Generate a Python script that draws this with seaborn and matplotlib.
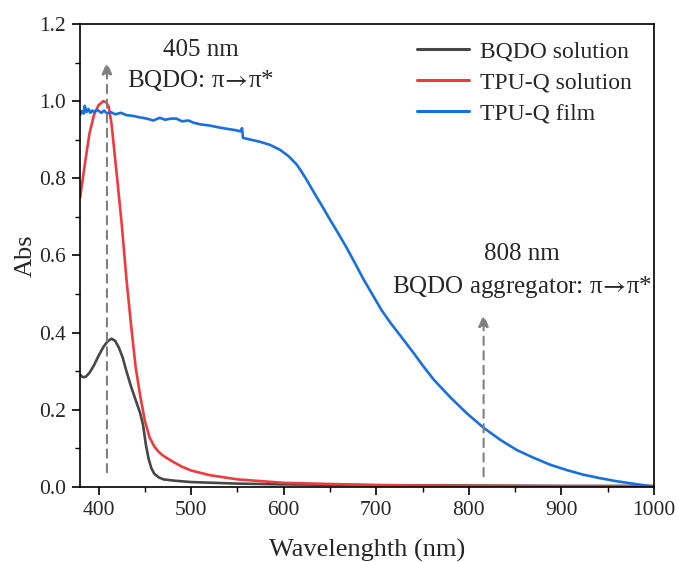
import numpy as np
import pandas as pd
import matplotlib
matplotlib.use("Agg")
import matplotlib.pyplot as plt
import seaborn as sns
from matplotlib.ticker import MultipleLocator

# ---------------- data ----------------
bqdo_x = [380, 383, 386, 390, 395, 400, 405, 410, 414, 418, 422, 426, 430, 435, 440, 445,
          448, 451, 454, 457, 460, 465, 470, 480, 500, 550, 600, 700, 800, 900, 1000]
bqdo_y = [0.290, 0.284, 0.285, 0.295, 0.315, 0.340, 0.362, 0.378, 0.384, 0.378, 0.360, 0.335,
          0.300, 0.260, 0.225, 0.190, 0.160, 0.110, 0.072, 0.048, 0.034, 0.024, 0.019, 0.016,
          0.012, 0.008, 0.006, 0.004, 0.003, 0.002, 0.002]

tpuq_sol_x = [380, 385, 390, 395, 400, 405, 408, 411, 414, 417, 420, 425, 430, 435, 440, 445,
              450, 455, 460, 465, 470, 480, 490, 500, 520, 550, 600, 700, 800, 900, 1000]
tpuq_sol_y = [0.750, 0.835, 0.915, 0.965, 0.990, 1.000, 0.998, 0.985, 0.940, 0.870, 0.800,
              0.680, 0.540, 0.420, 0.310, 0.235, 0.170, 0.128, 0.105, 0.090, 0.080, 0.065,
              0.052, 0.042, 0.030, 0.019, 0.010, 0.004, 0.002, 0.001, 0.001]

film_x = [380, 382, 384, 385, 387, 389, 391, 393, 395, 398, 400, 403, 406, 409, 413, 418,
          424, 430, 437, 445, 452, 459, 466, 472, 478, 484, 490, 497, 503, 510, 520, 530,
          540, 548, 553, 555, 556, 565, 574, 585, 596, 605, 614, 618, 623, 627, 632, 641,
          650, 659, 668, 677, 686, 696, 706, 716, 726, 740, 751, 762, 780, 798, 817, 835,
          852, 870, 888, 906, 924, 942, 960, 980, 1000]
film_y = [0.965, 0.975, 0.968, 0.988, 0.972, 0.980, 0.970, 0.976, 0.972, 0.978, 0.975, 0.970,
          0.976, 0.968, 0.972, 0.966, 0.970, 0.964, 0.962, 0.958, 0.955, 0.950, 0.957, 0.952,
          0.955, 0.955, 0.948, 0.950, 0.944, 0.940, 0.937, 0.932, 0.928, 0.925, 0.922, 0.930,
          0.905, 0.900, 0.895, 0.887, 0.874, 0.858, 0.836, 0.822, 0.803, 0.787, 0.766, 0.730,
          0.693, 0.657, 0.620, 0.580, 0.539, 0.498, 0.457, 0.423, 0.392, 0.348, 0.312, 0.278,
          0.232, 0.190, 0.151, 0.120, 0.095, 0.075, 0.057, 0.043, 0.031, 0.022, 0.014, 0.007,
          0.0]

series_names = ["BQDO solution", "TPU-Q solution", "TPU-Q film"]
colors = ["#474747", "#ef3b3f", "#1a6fe0"]

df = pd.concat([
    pd.DataFrame({"Wavelength": bqdo_x, "Abs": bqdo_y, "Sample": series_names[0]}),
    pd.DataFrame({"Wavelength": tpuq_sol_x, "Abs": tpuq_sol_y, "Sample": series_names[1]}),
    pd.DataFrame({"Wavelength": film_x, "Abs": film_y, "Sample": series_names[2]}),
], ignore_index=True)

# ---------------- style ----------------
sns.set_theme(style="ticks")
plt.rcParams["font.family"] = ["Liberation Serif", "DejaVu Serif"]
plt.rcParams["mathtext.fontset"] = "stix"

fig = plt.figure(figsize=(6.79, 5.62), dpi=100)
ax = fig.add_axes([0.118, 0.134, 0.845, 0.823])

sns.lineplot(data=df, x="Wavelength", y="Abs", hue="Sample", hue_order=series_names,
             palette=colors, linewidth=1.9, ax=ax, estimator=None, sort=True)

ax.set_xlim(380, 1000)
ax.set_ylim(0, 1.2)
ax.xaxis.set_major_locator(MultipleLocator(100))
ax.xaxis.set_minor_locator(MultipleLocator(50))
ax.yaxis.set_major_locator(MultipleLocator(0.2))
ax.yaxis.set_minor_locator(MultipleLocator(0.1))
ax.yaxis.set_major_formatter(matplotlib.ticker.FormatStrFormatter("%.1f"))
ax.tick_params(which="major", direction="out", length=6, width=1.2, labelsize=15.5,
               color="black", pad=4)
ax.tick_params(which="minor", direction="out", length=3.5, width=1.0, color="black")
for sp in ax.spines.values():
    sp.set_linewidth(1.2)
    sp.set_color("black")

ax.set_xlabel("Wavelenghth (nm)", fontsize=19, labelpad=14)
ax.set_ylabel("Abs", fontsize=19, labelpad=2)

# arrows
arrow_kw = dict(arrowstyle="-|>,head_length=0.6,head_width=0.25", color="#808080",
                linestyle=(0, (4, 3)), linewidth=1.5)
ax.annotate("", xy=(409, 1.11), xytext=(409, 0.03), arrowprops=arrow_kw)
ax.annotate("", xy=(816, 0.455), xytext=(816, 0.02), arrowprops=arrow_kw)

arrow_txt = r"π$\!\rightarrow\!$π*"
ax.text(510, 1.133, "405 nm", ha="center", va="center", fontsize=18)
ax.text(510, 1.053, "BQDO: " + arrow_txt, ha="center", va="center", fontsize=18)
ax.text(857, 0.604, "808 nm", ha="center", va="center", fontsize=18)
ax.text(857, 0.519, "BQDO aggregator: " + arrow_txt, ha="center", va="center", fontsize=18)

leg = ax.legend(loc="upper right", frameon=False, fontsize=17, handlelength=2.2,
                handletextpad=0.45, labelspacing=0.4, borderaxespad=0.3,
                bbox_to_anchor=(0.99, 1.0))
for line in leg.get_lines():
    line.set_linewidth(2.2)

fig.savefig("out.png", dpi=100)
